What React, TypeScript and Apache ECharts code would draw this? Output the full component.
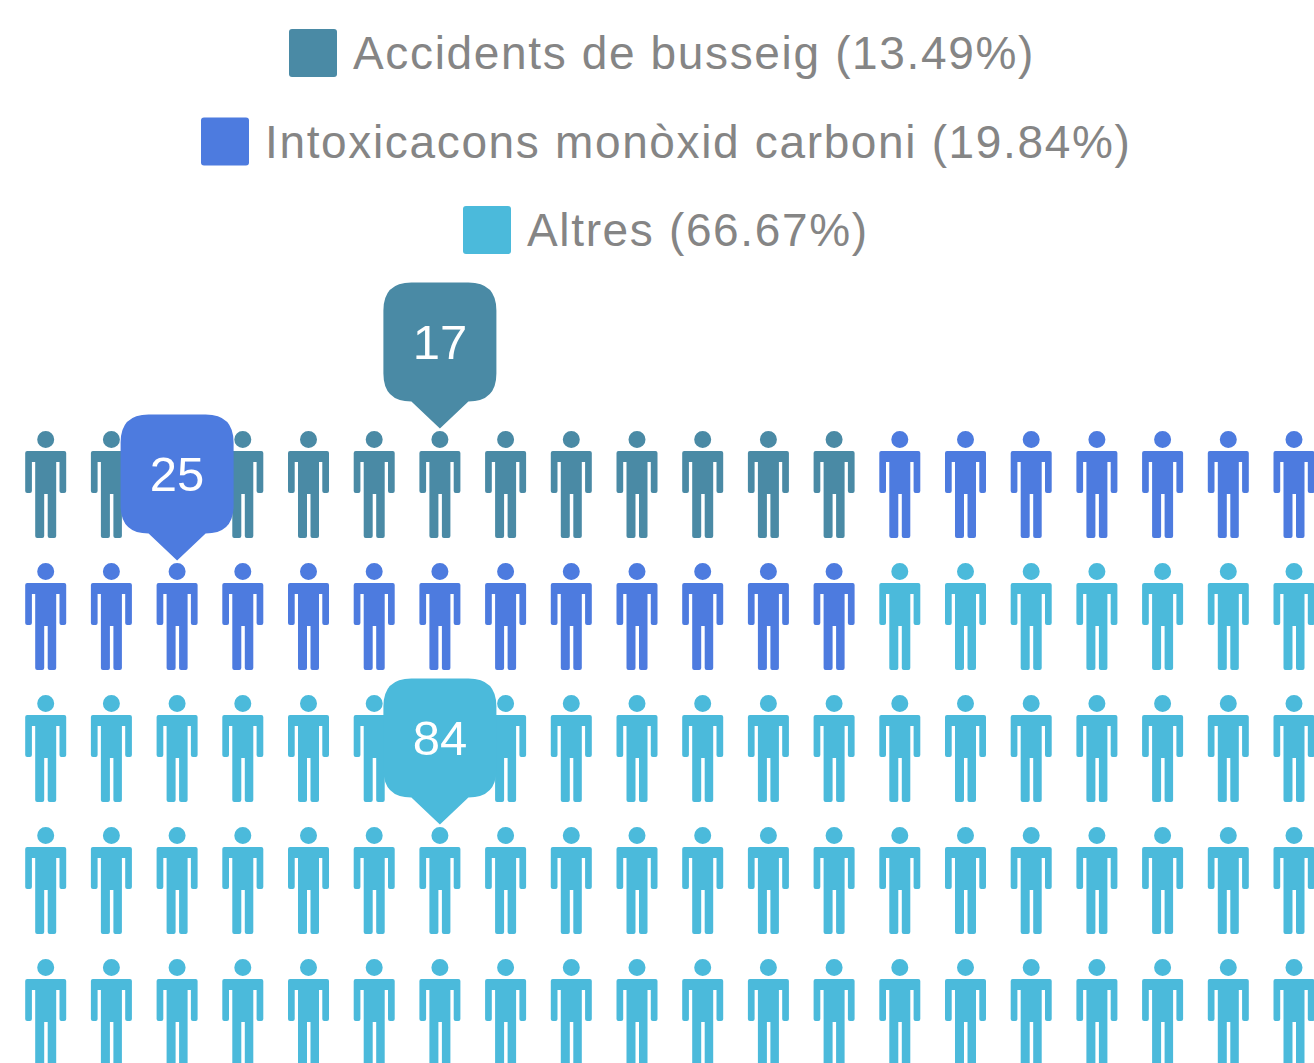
import React, { useEffect, useRef } from "react";
import * as echarts from "echarts";

const seriesNames = [
  "Accidents de busseig (13.49%)",
  "Intoxicacons monòxid carboni (19.84%)",
  "Altres (66.67%)",
];
const figureCounts = [13, 20, 67];
const pinValues = [17, 25, 84];
const pinCells = [
  [6, 0],
  [2, 1],
  [6, 3],
];
const colors = ["#4a8aa5", "#4d7bdf", "#4bbadb"];
const legendLefts = [289, 201, 463];
const legendTops = [29, 117.5, 206];
const COLUMNS = 20;

const PERSON =
  "path://M12,8.5 a8.5,8.5 0 1,1 17,0 a8.5,8.5 0 1,1 -17,0 Z " +
  "M2,20 H39 Q41,20 41,22 V60 Q41,62 39,62 H36.3 Q34.3,62 34.3,60 V31 H31 V105 Q31,107 29,107 H24.5 Q22.5,107 22.5,105 V63 H19 V105 Q19,107 17,107 H12 Q10,107 10,105 V31 H6.7 V60 Q6.7,62 4.7,62 H2 Q0,62 0,60 V22 Q0,20 2,20 Z";
const PIN =
  "path://M28,0 H85 Q113,0 113,28 V91 Q113,119 85,119 L56.5,146 L28,119 Q0,119 0,91 V28 Q0,0 28,0 Z";
const LEGEND_ICON =
  "path://M3,0 H45 Q48,0 48,3 V45 Q48,48 45,48 H3 Q0,48 0,45 V3 Q0,0 3,0 Z";

function cellsFor(seriesIndex: number) {
  const start = figureCounts.slice(0, seriesIndex).reduce((a, b) => a + b, 0);
  const cells: number[][] = [];
  for (let i = start; i < start + figureCounts[seriesIndex]; i++) {
    cells.push([i % COLUMNS, Math.floor(i / COLUMNS)]);
  }
  return cells;
}

export default function App() {
  const ref = useRef<HTMLDivElement>(null);
  useEffect(() => {
    document.body.style.margin = "0";
    document.body.style.overflow = "hidden";
    const chart = echarts.init(ref.current!, null, { renderer: "svg" });
    chart.setOption({
      animation: false,
      backgroundColor: "#ffffff",
      grid: { left: 45.7, top: 484.5, width: 1248.3, height: 528 },
      xAxis: { type: "value", min: 0, max: 19, show: false },
      yAxis: { type: "value", min: 0, max: 4, inverse: true, show: false },
      legend: seriesNames.map((name, i) => ({
        data: [{ name, icon: LEGEND_ICON }],
        left: legendLefts[i],
        top: legendTops[i],
        padding: 0,
        itemWidth: 48,
        itemHeight: 48,
        itemGap: 0,
        selectedMode: false,
        textStyle: {
          fontFamily: "Liberation Sans",
          fontSize: 46,
          color: "#858585",
          padding: [0, 0, 0, 11],
        },
      })),
      series: seriesNames.map((name, i) => ({
        name,
        type: "scatter",
        clip: false,
        symbol: PERSON,
        symbolSize: [41, 107],
        itemStyle: { color: colors[i], opacity: 1 },
        data: cellsFor(i),
        silent: true,
        markPoint: {
          silent: true,
          symbol: PIN,
          symbolSize: [113, 146],
          symbolOffset: [0, -129],
          itemStyle: { color: colors[i] },
          label: {
            show: true,
            position: "inside",
            offset: [0, -14],
            fontFamily: "Liberation Sans",
            fontSize: 49,
            color: "#ffffff",
            formatter: "{c}",
          },
          data: [{ coord: pinCells[i], value: pinValues[i] }],
        },
      })),
    });
    return () => chart.dispose();
  }, []);
  return (
    <>
      <style>{'text[text-anchor="start"]{letter-spacing:1.65px}'}</style>
      <div ref={ref} style={{ width: 1314, height: 1063 }} />
    </>
  );
}
